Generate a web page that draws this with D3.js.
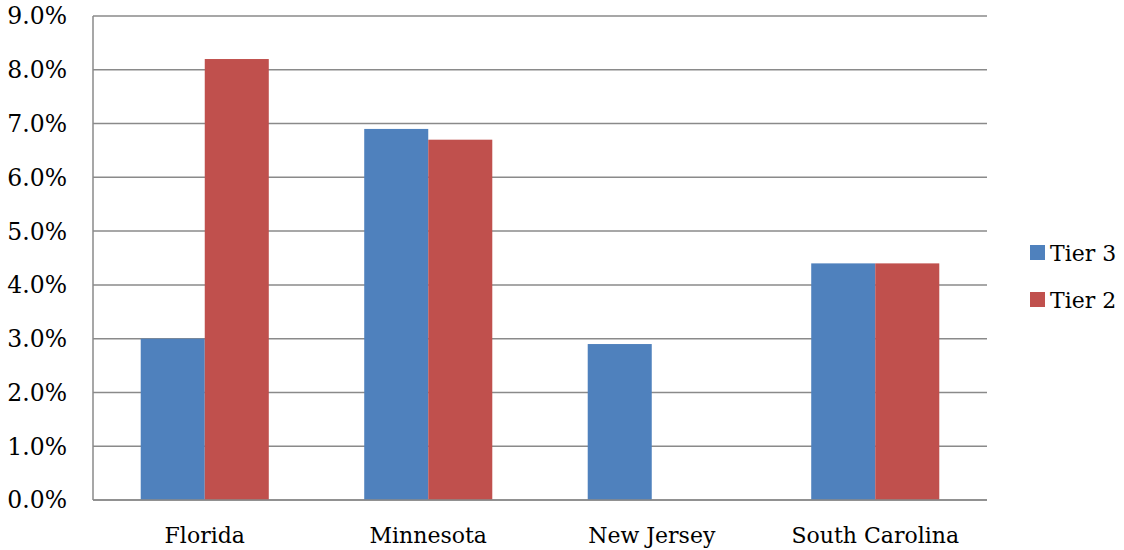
<!DOCTYPE html>
<meta charset="utf-8">
<script src="https://d3js.org/d3.v7.min.js"></script>
<style>
body { margin: 0; background: #fff; }
text { font-family: "DejaVu Serif", serif; font-size: 22px; fill: #000; }
.ylab text { font-size: 23.5px; }
.grid line { stroke: #8a8a8a; stroke-width: 1.5; }
</style>
<div id="my_dataviz"></div>
<script>
// chart data
var states = ["Florida", "Minnesota", "New Jersey", "South Carolina"];
var seriesNames = ["Tier 3", "Tier 2"];
var tier3 = [0.030, 0.069, 0.029, 0.044];
var tier2 = [0.082, 0.067, 0, 0.044];
var yTicks = [0, 0.01, 0.02, 0.03, 0.04, 0.05, 0.06, 0.07, 0.08, 0.09];
var colors = ["#4f81bd", "#c0504d"];

var width = 1124, height = 550;
var margin = {top: 16, right: 137, bottom: 50, left: 93};

var svg = d3.select("#my_dataviz").append("svg")
    .attr("width", width)
    .attr("height", height);

var x0 = d3.scaleBand()
    .domain(states)
    .range([margin.left, width - margin.right])
    .paddingInner(0.427)
    .paddingOuter(0.2135);

var x1 = d3.scaleBand()
    .domain(seriesNames)
    .range([0, x0.bandwidth()]);

var y = d3.scaleLinear()
    .domain([0, 0.09])
    .range([height - margin.bottom, margin.top]);

// gridlines
svg.append("g")
    .attr("class", "grid")
  .selectAll("line")
  .data(yTicks)
  .enter().append("line")
    .attr("x1", margin.left)
    .attr("x2", width - margin.right)
    .attr("y1", function(d) { return y(d); })
    .attr("y2", function(d) { return y(d); });

// y axis line
svg.append("line")
    .attr("x1", margin.left).attr("x2", margin.left)
    .attr("y1", y(0.09)).attr("y2", y(0))
    .attr("stroke", "#8a8a8a").attr("stroke-width", 1.5);

// y labels
svg.append("g")
    .attr("class", "ylab")
  .selectAll("text")
  .data(yTicks)
  .enter().append("text")
    .attr("x", 67)
    .attr("y", function(d) { return y(d); })
    .attr("dy", "0.36em")
    .attr("text-anchor", "end")
    .text(function(d) { return d3.format(".1%")(d); });

// bars
var rows = states.map(function(s, i) {
  return {state: s, values: [tier3[i], tier2[i]]};
});

var group = svg.append("g")
  .selectAll("g")
  .data(rows)
  .enter().append("g")
    .attr("transform", function(d) { return "translate(" + x0(d.state) + ",0)"; });

group.selectAll("rect")
  .data(function(d) {
    return d.values.map(function(v, j) { return {key: seriesNames[j], value: v, idx: j}; });
  })
  .enter().append("rect")
    .attr("x", function(d) { return x1(d.key); })
    .attr("width", x1.bandwidth())
    .attr("y", function(d) { return y(d.value); })
    .attr("height", function(d) { return y(0) - y(d.value); })
    .attr("fill", function(d) { return colors[d.idx]; });

// x axis line on top of bars
svg.append("line")
    .attr("x1", margin.left).attr("x2", width - margin.right)
    .attr("y1", y(0)).attr("y2", y(0))
    .attr("stroke", "#8a8a8a").attr("stroke-width", 1.5);

// x labels
svg.append("g")
  .selectAll("text")
  .data(states)
  .enter().append("text")
    .attr("x", function(d) { return x0(d) + x0.bandwidth() / 2; })
    .attr("y", 543)
    .attr("text-anchor", "middle")
    .text(function(d) { return d; });

// legend
var legend = svg.append("g")
  .selectAll("g")
  .data(seriesNames)
  .enter().append("g")
    .attr("transform", function(d, i) { return "translate(1030," + (245 + i * 47) + ")"; });

legend.append("rect")
    .attr("width", 15)
    .attr("height", 15)
    .attr("fill", function(d, i) { return colors[i]; });

legend.append("text")
    .attr("x", 20)
    .attr("y", 8)
    .attr("dy", "0.36em")
    .text(function(d) { return d; });
</script>
